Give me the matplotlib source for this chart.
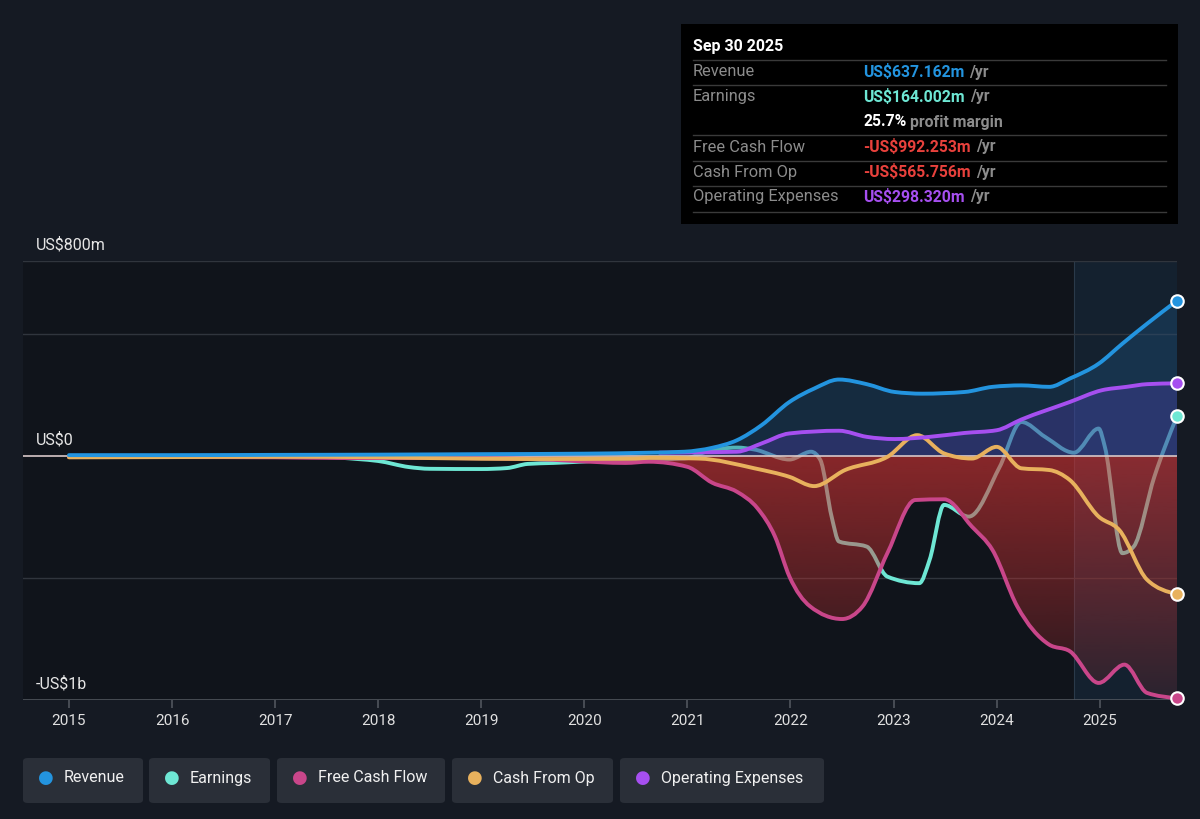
import numpy as np
import matplotlib
matplotlib.use("Agg")
import matplotlib.pyplot as plt
from matplotlib.patches import Rectangle, FancyBboxPatch, PathPatch
from matplotlib.path import Path

plt.rcParams['font.family'] = ['Roboto', 'DejaVu Sans']

# ---- data (US$ m) ----
rev_x = [2015.0, 2016.0, 2017.0, 2018.0, 2019.0, 2020.0, 2020.625, 2020.97, 2021.24, 2021.48,
         2021.72, 2021.99, 2022.23, 2022.47, 2022.74, 2023.01, 2023.28, 2023.69, 2023.96,
         2024.24, 2024.51, 2024.71, 2024.99, 2025.22, 2025.46, 2025.75]
rev_y = [4, 4, 5, 6, 8, 10, 14, 18, 34, 65, 127, 222, 277, 314, 295, 263, 256, 263, 284,
         290, 284, 318, 379, 461, 543, 637.162]

earn_x = [2015.0, 2016.0, 2017.0, 2017.5, 2017.8, 2018.0, 2018.3, 2018.5, 2019.0, 2019.25,
          2019.45, 2019.7, 2020.0, 2020.3, 2020.625, 2020.97, 2021.2, 2021.48, 2021.65, 2021.99,
          2022.2, 2022.29, 2022.4, 2022.47, 2022.74, 2022.94, 2023.25, 2023.35, 2023.49,
          2023.73, 2024.03, 2024.24, 2024.47, 2024.75, 2024.99, 2025.05, 2025.22, 2025.33,
          2025.53, 2025.75]
earn_y = [-2, -2, -2, -4, -12, -20, -45, -52, -53, -49, -32, -28, -22, -15, -14, -10, 20, 35,
          27, -14, 18, -16, -250, -350, -371, -494, -521, -425, -200, -248, -44, 140, 79, 14,
          113, 38, -398, -371, -85, 164.002]

fcf_x = [2015.0, 2016.0, 2017.0, 2017.7, 2018.5, 2019.5, 2019.9, 2020.4, 2020.625, 2021.0,
         2021.24, 2021.48, 2021.68, 2021.85, 2021.99, 2022.19, 2022.5, 2022.7, 2022.94,
         2023.21, 2023.49, 2023.76, 2023.96, 2024.2, 2024.51, 2024.71, 2024.99, 2025.24,
         2025.46, 2025.75]
fcf_y = [-4, -4, -5, -8, -8, -12, -20, -28, -23, -44, -109, -146, -214, -330, -494, -616,
         -668, -616, -398, -180, -177, -289, -385, -616, -773, -800, -930, -855, -971,
         -992.253]

cfo_x = [2015.0, 2016.0, 2017.0, 2017.5, 2018.5, 2019.5, 2020.5, 2020.625, 2021.11, 2021.65,
         2021.99, 2022.23, 2022.53, 2022.94, 2023.23, 2023.49, 2023.76, 2024.0, 2024.24,
         2024.51, 2024.71, 2024.99, 2025.19, 2025.46, 2025.75]
cfo_y = [-5, -4, -3, -3, -8, -12, -10, -7, -10, -50, -85, -123, -57, -3, 86, 11, -10, 38,
         -50, -57, -98, -248, -303, -507, -565.756]

opex_x = [2020.73, 2021.0, 2021.48, 2021.72, 2021.99, 2022.47, 2022.74, 2023.01, 2023.35,
          2023.69, 2024.0, 2024.24, 2024.71, 2025.02, 2025.26, 2025.46, 2025.75]
opex_y = [14, 15, 18, 52, 93, 104, 79, 70, 79, 95, 106, 150, 222, 270, 284, 295, 298.32]

years = list(range(2015, 2026))
ytick_vals = [800, 0, -1000]
ytick_text = ['US$800m', 'US$0', '-US$1b']

c_rev = '#2394df'
c_earn = '#6ee7d4'
c_fcf = '#c9468a'
c_cfo = '#e8b15d'
c_opex = '#a64ff0'

BG = '#151a23'


def monotone_path(xs, ys, close_to_zero=False):
    # smooth drawing of the line (monotone cubic, like a d3 curveMonotoneX)
    x = np.asarray(xs, float)
    y = np.asarray(ys, float)
    h = np.diff(x)
    s = np.diff(y) / h
    n = len(x)
    t = np.zeros(n)
    for i in range(1, n - 1):
        p = (s[i - 1] * h[i] + s[i] * h[i - 1]) / (h[i - 1] + h[i])
        t[i] = (np.sign(s[i - 1]) + np.sign(s[i])) * min(abs(s[i - 1]), abs(s[i]), 0.5 * abs(p))
    t[0] = (3 * s[0] - t[1]) / 2
    t[-1] = (3 * s[-1] - t[-2]) / 2
    verts = [(x[0], y[0])]
    codes = [Path.MOVETO]
    for i in range(n - 1):
        d = h[i] / 3
        verts += [(x[i] + d, y[i] + d * t[i]), (x[i + 1] - d, y[i + 1] - d * t[i + 1]),
                  (x[i + 1], y[i + 1])]
        codes += [Path.CURVE4] * 3
    if close_to_zero:
        verts += [(x[-1], 0), (x[0], 0), (x[0], y[0])]
        codes += [Path.LINETO, Path.LINETO, Path.CLOSEPOLY]
    return Path(verts, codes)


fig = plt.figure(figsize=(12, 8.19), dpi=100, facecolor=BG)
ax = fig.add_axes([23 / 1200, 1 - 700 / 819, 1154 / 1200, 439 / 819])
ax.set_facecolor('#10141b')
x0, x1 = 2014.554, 2025.75
ax.set_xlim(x0, x1)
ax.set_ylim(-1000, 800)

# past-year highlight
ax.axvspan(2024.75, x1, color='#1d3a55', alpha=0.35, lw=0, zorder=0)
ax.axvline(2024.75, color='#2a3a4a', lw=0.8, zorder=0)

# grid
for g in [800, 500, -500]:
    ax.axhline(g, color='#30353d', lw=1, zorder=0.5)
ax.axhline(0, color='#d8c8c8', lw=1.2, zorder=2.5)


def line(xs, ys, col, z):
    ax.add_patch(PathPatch(monotone_path(xs, ys), facecolor='none', edgecolor=col, lw=2.8,
                           zorder=z, capstyle='round', joinstyle='round'))


# earnings line below fills (looks greyed inside them)
line(earn_x, earn_y, c_earn, 1)

# fills
ax.add_patch(PathPatch(monotone_path(rev_x, rev_y, True), facecolor='#1f5685', alpha=0.35,
                       lw=0, zorder=2))
ax.add_patch(PathPatch(monotone_path(opex_x, opex_y, True), facecolor='#5040b0', alpha=0.35,
                       lw=0, zorder=2))

# red gradient fill for FCF
fcf_patch = PathPatch(monotone_path(fcf_x, fcf_y, True), facecolor='none', lw=0, zorder=2)
ax.add_patch(fcf_patch)
grad = np.linspace(1, 0, 256).reshape(-1, 1)
rgba = np.zeros((256, 1, 4))
rgba[..., 0] = 0.82
rgba[..., 1] = 0.20
rgba[..., 2] = 0.20
rgba[..., 3] = 0.12 + 0.5 * grad
img = ax.imshow(rgba, extent=[x0, x1, -1000, 0], aspect='auto', zorder=2, origin='upper')
img.set_clip_path(fcf_patch)

# other lines
line(fcf_x, fcf_y, c_fcf, 3)
line(cfo_x, cfo_y, c_cfo, 3)
line(opex_x, opex_y, c_opex, 3)
line(rev_x, rev_y, c_rev, 3)

# end markers
for xs, ys, c in [(rev_x, rev_y, c_rev), (earn_x, earn_y, c_earn), (fcf_x, fcf_y, c_fcf),
                  (cfo_x, cfo_y, c_cfo), (opex_x, opex_y, c_opex)]:
    ax.plot(xs[-1], ys[-1], 'o', ms=9, mfc=c, mec='white', mew=1.5, zorder=5, clip_on=False)

for s in ax.spines.values():
    s.set_visible(False)
ax.axhline(-1000, color='#50555d', lw=1.2, zorder=0.5)
ax.set_yticks([])
ax.set_xticks(years)
ax.set_xticklabels([str(y) for y in years], color='#e0e0e0', fontsize=11)
ax.tick_params(axis='x', length=6, color='#50555d', width=1.2, pad=4)

# y labels inside plot area
for v, t in zip(ytick_vals, ytick_text):
    ax.annotate(t, (0, v), xycoords=('axes fraction', 'data'), xytext=(9, 6),
                textcoords='offset points', color='#e6e6e6', fontsize=11.5, va='bottom')


def fx(px):
    return px / 1200


def fy(py):
    return 1 - py / 819


# tooltip box
fig.patches.append(Rectangle((fx(681), fy(224)), 497 / 1200, 200 / 819, transform=fig.transFigure,
                             facecolor='#000000', edgecolor='none', zorder=10))
fig.text(fx(693), fy(46), 'Sep 30 2025', color='white', fontsize=11.5, fontweight='bold',
         va='center', zorder=11)
rows = [
    ('Revenue', 'US$637.162m', c_rev, 72),
    ('Earnings', 'US$164.002m', c_earn, 97),
    ('Free Cash Flow', '-US$992.253m', '#e8413c', 147),
    ('Cash From Op', '-US$565.756m', '#e8413c', 172),
    ('Operating Expenses', 'US$298.320m', c_opex, 197),
]
fig.canvas.draw()
for lbl, val, col, py in rows:
    fig.text(fx(693), fy(py), lbl, color='#8c8c8c', fontsize=11.8, va='center', zorder=11)
    t = fig.text(fx(863), fy(py), val, color=col, fontsize=11.3, fontweight='bold', va='center',
                 zorder=11)
    bb = t.get_window_extent(renderer=fig.canvas.get_renderer())
    fig.text(bb.x1 / 1200 + 5 / 1200, fy(py), '/yr', color='#8c8c8c', fontsize=11.3,
             fontweight='bold', va='center', zorder=11)
t = fig.text(fx(863), fy(122), '25.7%', color='white', fontsize=11.3, fontweight='bold',
             va='center', zorder=11)
bb = t.get_window_extent(renderer=fig.canvas.get_renderer())
fig.text(bb.x1 / 1200 + 4 / 1200, fy(122), 'profit margin', color='#8c8c8c', fontsize=11.3,
         fontweight='bold', va='center', zorder=11)
for py in [60, 85, 135, 161, 186, 212]:
    fig.lines.append(plt.Line2D([fx(693), fx(1166)], [fy(py), fy(py)], transform=fig.transFigure,
                                color='#3a3a3a', lw=1, zorder=11))

# legend buttons
legend = [('Revenue', c_rev, 23, 143), ('Earnings', c_earn, 149, 270),
          ('Free Cash Flow', c_fcf, 277, 445), ('Cash From Op', c_cfo, 452, 613),
          ('Operating Expenses', c_opex, 620, 824)]
for name, col, l, r in legend:
    fig.patches.append(FancyBboxPatch((fx(l), fy(803)), (r - l) / 1200, 45 / 819,
                                      boxstyle='round,pad=0,rounding_size=0.004',
                                      transform=fig.transFigure, facecolor='#2a2f38',
                                      edgecolor='none', zorder=10))
    fig.text(fx(l + 23), fy(778), '\u25cf', color=col, fontsize=13, va='center', ha='center',
             zorder=11, family=['DejaVu Sans'])
    fig.text(fx(l + 41), fy(778), name, color='#f0f0f0', fontsize=11.5, va='center', zorder=11)

fig.savefig('out.png', dpi=100, facecolor=BG)
plt.close(fig)
